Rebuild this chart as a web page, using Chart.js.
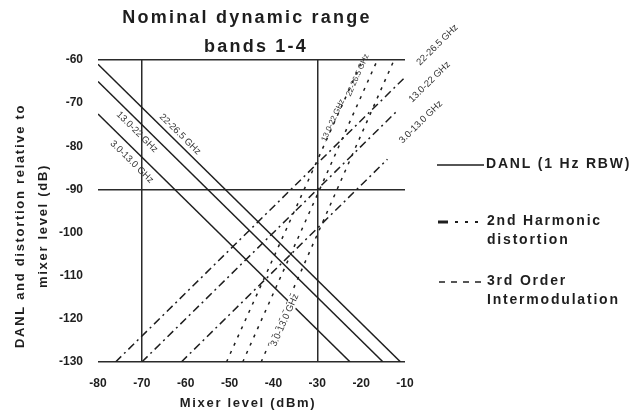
<!DOCTYPE html>
<html>
<head>
<meta charset="utf-8">
<script src="https://cdn.jsdelivr.net/npm/chart.js@4.4.0/dist/chart.umd.min.js"></script>
<style>
html,body{margin:0;padding:0;background:#fff;}
#wrap{width:640px;height:415px;}
</style>
</head>
<body>
<div id="wrap"><canvas id="mychart" width="640" height="415"></canvas></div>
<script>
// axes
var xRules = [-70, -30];
var yRules = [-60, -90, -130];

var bands = ["3.0-13.0 GHz", "13.0-22 GHz", "22-26.5 GHz"];

// DANL (1 Hz RBW) per band
var danlLow  = [{x: -80, y: -72.5}, {x: -22.5, y: -130}];
var danlMid  = [{x: -80, y: -65},   {x: -15,   y: -130}];
var danlHigh = [{x: -80, y: -61},   {x: -11,   y: -130}];

// 2nd harmonic distortion per band
var shLow  = [{x: -61, y: -130}, {x: -14, y: -83}];
var shMid  = [{x: -70, y: -130}, {x: -12, y: -72}];
var shHigh = [{x: -76, y: -130}, {x: -10, y: -64}];

// 3rd order intermodulation per band
var imLow  = [{x: -42.8, y: -130}, {x: -12.5, y: -60}];
var imMid  = [{x: -50.7, y: -130}, {x: -19.7, y: -60}];
var imHigh = [{x: -47,   y: -130}, {x: -16.3, y: -60}];

// where each band name sits (data units) and which line it follows
var tags = [
  {text: bands[2], x: -61.3, y: -77.2, line: danlHigh},
  {text: bands[1], x: -71.1, y: -76.7, line: danlMid},
  {text: bands[0], x: -72.3, y: -83.6, line: danlLow},
  {text: bands[0], x: -37.4, y: -120.3, line: imLow, mask: true},
  {text: bands[1], x: -26.4, y: -74.0, line: imMid, small: true},
  {text: bands[2], x: -20.8, y: -63.5, line: imHigh, small: true},
  {text: bands[0], x: -6.4, y: -74.4, line: shLow},
  {text: bands[1], x: -4.4, y: -65.1, line: shMid},
  {text: bands[2], x: -2.6, y: -56.5, line: shHigh}
];

var ink = "#1e1e1e";
var DASH_2ND = [8, 4, 2, 4];
var DASH_3RD = [3, 6];

function line(data, dash) {
  return {
    data: data,
    showLine: true,
    borderColor: ink,
    borderWidth: 1.5,
    borderDash: dash,
    pointRadius: 0,
    fill: false
  };
}

function spaced(ctx, px) {
  if ("letterSpacing" in ctx) ctx.letterSpacing = px + "px";
}

var extras = {
  id: "extras",
  afterDatasetsDraw: function(chart) {
    var ctx = chart.ctx, xs = chart.scales.x, ys = chart.scales.y;
    ctx.save();
    ctx.textAlign = "center";
    ctx.textBaseline = "middle";
    tags.forEach(function(t) {
      var a = t.line[0], b = t.line[1];
      var ang = Math.atan2(ys.getPixelForValue(b.y) - ys.getPixelForValue(a.y),
                           xs.getPixelForValue(b.x) - xs.getPixelForValue(a.x));
      ctx.save();
      ctx.font = (t.small ? "8px" : "9.5px") + " 'Liberation Sans', Arial, sans-serif";
      ctx.translate(xs.getPixelForValue(t.x), ys.getPixelForValue(t.y));
      ctx.rotate(ang);
      if (t.mask) {
        var w = ctx.measureText(t.text).width;
        ctx.fillStyle = "#fff";
        ctx.fillRect(-w / 2 - 1, -5, w + 2, 10);
      }
      ctx.fillStyle = "#333";
      ctx.fillText(t.text, 0, 0);
      ctx.restore();
    });
    ctx.restore();
  },
  afterDraw: function(chart) {
    var ctx = chart.ctx;
    ctx.save();
    ctx.fillStyle = ink;
    ctx.strokeStyle = ink;
    ctx.textBaseline = "middle";

    // title
    ctx.textAlign = "center";
    ctx.font = "bold 18px 'Liberation Sans', Arial, sans-serif";
    spaced(ctx, 2.2);
    ctx.fillText("Nominal dynamic range", 247, 18);
    ctx.fillText("bands 1-4", 256, 47);

    // axis titles
    ctx.font = "bold 13px 'Liberation Sans', Arial, sans-serif";
    spaced(ctx, 1.7);
    ctx.fillText("Mixer level (dBm)", 248, 403);
    ctx.save();
    ctx.translate(20, 226);
    ctx.rotate(-Math.PI / 2);
    ctx.fillText("DANL and distortion relative to", 0, 0);
    ctx.fillText("mixer level (dB)", 0, 23);
    ctx.restore();

    // legend
    ctx.textAlign = "left";
    ctx.font = "bold 14px 'Liberation Sans', Arial, sans-serif";
    spaced(ctx, 1.8);
    ctx.lineWidth = 1.5;
    ctx.beginPath(); ctx.moveTo(437, 165); ctx.lineTo(484, 165); ctx.stroke();
    ctx.fillText("DANL (1 Hz RBW)", 486, 164);

    ctx.lineWidth = 3;
    ctx.beginPath(); ctx.moveTo(438, 222); ctx.lineTo(448, 222); ctx.stroke();
    ctx.lineWidth = 2;
    [455, 465, 475].forEach(function(x) {
      ctx.beginPath(); ctx.moveTo(x, 222); ctx.lineTo(x + 3, 222); ctx.stroke();
    });
    ctx.fillText("2nd Harmonic", 487, 221);
    ctx.fillText("distortion", 487, 240);

    ctx.lineWidth = 1.5;
    [439, 451, 463, 475].forEach(function(x) {
      ctx.beginPath(); ctx.moveTo(x, 282); ctx.lineTo(x + 6, 282); ctx.stroke();
    });
    ctx.fillText("3rd Order", 487, 281);
    ctx.fillText("Intermodulation", 487, 300);
    ctx.restore();
  }
};

var mychart = document.getElementById("mychart").getContext("2d");
var chart = new Chart(mychart, {
  type: "scatter",
  data: {
    datasets: [
      line(danlLow, []), line(danlMid, []), line(danlHigh, []),
      line(shLow, DASH_2ND), line(shMid, DASH_2ND), line(shHigh, DASH_2ND),
      line(imLow, DASH_3RD), line(imMid, DASH_3RD), line(imHigh, DASH_3RD)
    ]
  },
  options: {
    responsive: false,
    animation: false,
    devicePixelRatio: 1,
    layout: {padding: {top: 60, right: 235, left: 0, bottom: 0}},
    plugins: {legend: {display: false}, tooltip: {enabled: false}},
    scales: {
      x: {
        type: "linear", min: -80, max: -10,
        ticks: {stepSize: 10, padding: 14, color: ink,
                font: {family: "'Liberation Sans', Arial", size: 12, weight: "bold"}},
        grid: {drawTicks: false, lineWidth: 1.5,
               color: function(c) { return xRules.indexOf(c.tick.value) >= 0 ? "#2a2a2a" : "rgba(0,0,0,0)"; }},
        border: {display: false},
        afterFit: function(s) { s.height = 53; }
      },
      y: {
        type: "linear", min: -130, max: -60,
        ticks: {stepSize: 10, padding: 15, color: ink,
                font: {family: "'Liberation Sans', Arial", size: 12, weight: "bold"}},
        grid: {drawTicks: false, lineWidth: 1.5,
               color: function(c) { return yRules.indexOf(c.tick.value) >= 0 ? "#2a2a2a" : "rgba(0,0,0,0)"; }},
        border: {display: false},
        afterFit: function(s) { s.width = 98; }
      }
    }
  },
  plugins: [extras]
});
</script>
</body>
</html>
